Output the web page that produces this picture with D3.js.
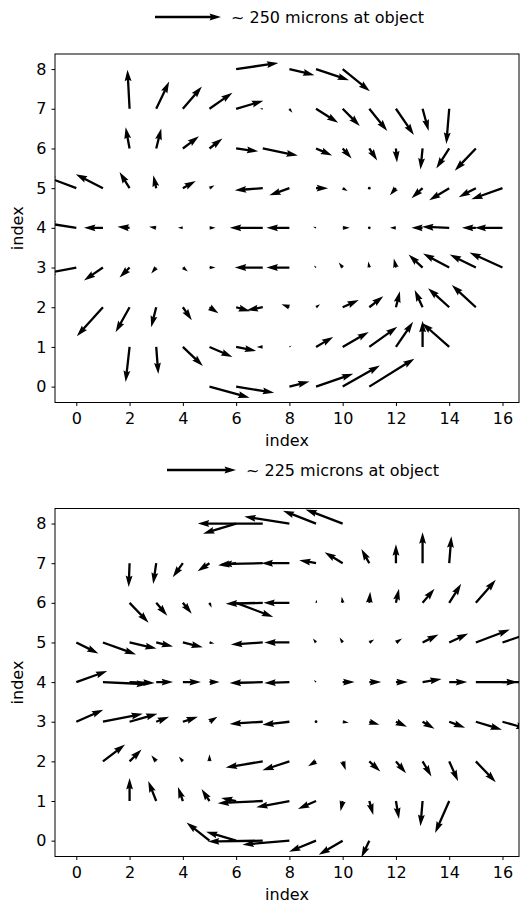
<!DOCTYPE html>
<html>
<head>
<meta charset="utf-8">
<script src="https://cdn.jsdelivr.net/npm/d3@7"></script>
<style>
  body { margin: 0; background: #fff; }
  svg { display: block; font-family: "DejaVu Sans", sans-serif; }
</style>
</head>
<body>
<svg id="fig" width="521" height="905"></svg>
<script>
// tick values shared by both panels
const xTicks = [0, 2, 4, 6, 8, 10, 12, 14, 16]
const yTicks = [0, 1, 2, 3, 4, 5, 6, 7, 8]

// key arrows (microns) and their labels
const keyMicrons = [250, 225]
const keyLabels = ["~ 250 microns at object", "~ 225 microns at object"]

// displacement vectors, [x index, y index, u microns, v microns]
const topArrows = [
  [6,8,160,23],[8,8,95,-23],[9,8,125,-42],[10,8,103,-84],
  [2,7,-8,148],[3,7,49,103],[4,7,72,84],[5,7,87,61],[6,7,103,30],[7,7,-11,0],[8,7,11,-15],[9,7,84,-53],[10,7,65,-65],[11,7,68,-84],[12,7,68,-99],[13,7,23,-84],[14,7,-11,-133],
  [2,6,-15,80],[3,6,19,76],[4,6,61,46],[5,6,49,38],[6,6,84,-11],[7,6,133,-27],[9,6,61,-27],[10,6,34,-38],[11,6,30,-46],[12,6,4,-53],[13,6,-8,-80],[14,6,-49,-76],[15,6,-80,-84],
  [0,5,-122,46],[1,5,-103,53],[2,5,-38,61],[3,5,-11,49],[4,5,49,27],[5,5,19,11],[7,5,-106,-8],[8,5,-76,-27],[9,5,46,0],[10,5,19,-11],[11,5,4,-4],[12,5,-23,-27],[13,5,-42,-38],[14,5,-76,-46],[15,5,-65,-34],[16,5,-118,-42],
  [0,4,-122,19],[1,4,-72,0],[2,4,-46,4],[3,4,-27,4],[4,4,-19,0],[5,4,23,0],[6,4,-15,0],[7,4,-125,0],[8,4,-87,0],[9,4,-11,4],[10,4,27,0],[11,4,3,0],[12,4,-23,0],[13,4,-42,0],[14,4,-103,4],[15,4,-53,0],[16,4,-106,0],
  [0,3,-122,-23],[1,3,-72,-49],[2,3,-38,-38],[3,3,-19,-23],[4,3,19,-15],[5,3,23,0],[7,3,-106,0],[8,3,-87,0],[9,3,-8,8],[10,3,-15,19],[11,3,-4,23],[12,3,-8,34],[13,3,-53,49],[14,3,-99,53],[15,3,-99,49],[16,3,-125,57],
  [1,2,-99,-110],[2,2,-53,-95],[3,2,-19,-76],[4,2,34,-49],[5,2,34,-23],[6,2,53,-15],[7,2,-61,-11],[8,2,-30,11],[9,2,15,11],[10,2,61,27],[11,2,53,42],[12,2,15,61],[13,2,-30,65],[14,2,-80,72],[15,2,-91,84],
  [2,1,-15,-133],[3,1,8,-103],[4,1,76,-72],[5,1,87,-38],[6,1,76,-15],[7,1,-23,0],[8,1,8,4],[9,1,65,38],[10,1,99,57],[11,1,106,76],[12,1,65,95],[13,1,0,99],[14,1,-103,91],
  [5,0,152,-42],[6,0,144,-23],[8,0,76,19],[9,0,141,49],[10,0,141,80],[11,0,171,106]
]

const bottomArrows = [
  [6,8,-108,-33],[7,8,-212,0],[8,8,-147,23],[9,8,-108,42],[10,8,-121,46],
  [2,7,-3,-78],[3,7,-10,-68],[4,7,-33,-46],[5,7,-39,-26],[6,7,-59,-7],[7,7,-137,-3],[8,7,-91,0],[9,7,-55,10],[10,7,-59,36],[11,7,-26,46],[12,7,0,62],[13,7,0,101],[14,7,7,88],
  [2,6,62,-65],[3,6,36,-42],[4,6,29,-36],[5,6,7,-16],[6,6,121,-46],[7,6,-121,-3],[8,6,-85,0],[9,6,3,10],[10,6,-3,20],[11,6,3,36],[12,6,10,46],[13,6,39,46],[14,6,39,62],[15,6,65,75],
  [0,5,72,-36],[1,5,108,-39],[2,5,88,-20],[3,5,55,-13],[4,5,65,-16],[5,5,16,-3],[7,5,-104,-7],[8,5,-82,0],[9,5,-10,13],[10,5,-10,16],[11,5,16,10],[12,5,20,13],[13,5,52,26],[14,5,62,29],[15,5,111,42],[16,5,98,33],
  [0,4,101,36],[1,4,147,-7],[2,4,82,-3],[3,4,55,0],[4,4,59,0],[5,4,33,0],[7,4,-108,-3],[8,4,-82,-3],[9,4,-7,7],[10,4,39,0],[11,4,39,0],[12,4,39,0],[13,4,62,10],[14,4,59,0],[15,4,137,0],[16,4,98,0],
  [0,3,88,39],[1,3,130,26],[2,3,91,26],[3,3,42,16],[4,3,49,16],[5,3,26,16],[7,3,-108,-7],[8,3,-88,-10],[9,3,2,0],[10,3,20,-3],[11,3,33,-10],[12,3,36,-16],[13,3,39,-23],[14,3,52,-20],[15,3,85,-26],[16,3,82,-23],
  [1,2,72,55],[2,2,39,39],[3,2,-16,20],[4,2,-13,16],[5,2,0,23],[7,2,-121,-20],[8,2,-88,-29],[9,2,-26,-16],[10,2,10,-29],[11,2,36,-33],[12,2,33,-39],[13,2,29,-49],[14,2,29,-65],[15,2,65,-68],
  [2,1,0,75],[3,1,-26,65],[4,1,-16,46],[5,1,-26,39],[6,1,-49,10],[7,1,-147,-7],[8,1,-108,-20],[9,1,-59,-26],[10,1,-7,-33],[11,1,13,-46],[12,1,10,-59],[13,1,-7,-82],[14,1,-46,-104],
  [5,0,-75,59],[6,0,-98,29],[7,0,-179,-3],[8,0,-153,-13],[9,0,-88,-36],[10,0,-78,-46],[11,0,-26,-55]
]

// layout
const svg = d3.select("#fig")
const shaftW = 2.3
const panels = [
  {arrows: topArrows, key: 0, top: 54, bottom: 402.5, keyX: 155, keyY: 17, keyPx: 66},
  {arrows: bottomArrows, key: 1, top: 508.5, bottom: 856.5, keyX: 167, keyY: 470, keyPx: 69}
]
const left = 55, right = 519

// matplotlib-like quiver arrow polygon along +x, length L
function arrowPoints(L) {
  const w = shaftW, hl = 5 * w, hal = 4.5 * w, hw = 1.5 * w
  const minLen = hl
  let s = 1, len = L
  if (L < minLen) { s = L / minLen; len = minLen }
  const pts = [
    [0, w/2], [len - hal, w/2], [len - hl, hw], [len, 0],
    [len - hl, -hw], [len - hal, -w/2], [0, -w/2]
  ]
  return pts.map(p => [p[0] * s, p[1] * s])
}

function drawArrow(g, x0, y0, dx, dy) {
  const L = Math.hypot(dx, dy)
  if (L < shaftW) {
    g.append("circle").attr("cx", x0).attr("cy", y0).attr("r", shaftW * 0.6).attr("fill", "#000")
    return
  }
  const ang = Math.atan2(dy, dx) * 180 / Math.PI
  g.append("polygon")
    .attr("points", arrowPoints(L).map(p => p.join(",")).join(" "))
    .attr("transform", `translate(${x0},${y0}) rotate(${ang})`)
    .attr("fill", "#000")
}

panels.forEach((p, i) => {
  const x = d3.scaleLinear().domain([-0.8, 16.62]).range([left, right])
  const y = d3.scaleLinear().domain([-0.4, 8.38]).range([p.bottom, p.top])
  const k = p.keyPx / keyMicrons[p.key]   // px per micron

  svg.append("clipPath").attr("id", "clip" + i)
    .append("rect").attr("x", left).attr("y", p.top)
    .attr("width", right - left).attr("height", p.bottom - p.top)

  const g = svg.append("g").attr("clip-path", `url(#clip${i})`)
  p.arrows.forEach(a => drawArrow(g, x(a[0]), y(a[1]), a[2] * k, -a[3] * k))

  // frame
  svg.append("rect").attr("x", left).attr("y", p.top)
    .attr("width", right - left).attr("height", p.bottom - p.top)
    .attr("fill", "none").attr("stroke", "#000").attr("stroke-width", 1)

  const xAxis = svg.append("g").attr("transform", `translate(0,${p.bottom})`)
    .call(d3.axisBottom(x).tickValues(xTicks).tickSize(3.5).tickPadding(7))
  const yAxis = svg.append("g").attr("transform", `translate(${left},0)`)
    .call(d3.axisLeft(y).tickValues(yTicks).tickSize(3.5).tickPadding(5))
  for (const ax of [xAxis, yAxis]) {
    ax.select(".domain").remove()
    ax.selectAll("text").attr("font-size", 16).attr("font-family", "DejaVu Sans").attr("fill", "#000")
    ax.selectAll("line").attr("stroke", "#000")
  }

  svg.append("text").attr("x", (left + right) / 2).attr("y", p.bottom + 43)
    .attr("text-anchor", "middle").attr("font-size", 16).text("index")
  svg.append("text")
    .attr("transform", `translate(23,${(p.top + p.bottom) / 2}) rotate(-90)`)
    .attr("text-anchor", "middle").attr("font-size", 16).text("index")

  // quiver key
  drawArrow(svg, p.keyX, p.keyY, keyMicrons[p.key] * k, 0)
  svg.append("text").attr("x", p.keyX + p.keyPx + 10).attr("y", p.keyY)
    .attr("dy", "0.36em").attr("font-size", 16).text(keyLabels[p.key])
})
</script>
</body>
</html>
